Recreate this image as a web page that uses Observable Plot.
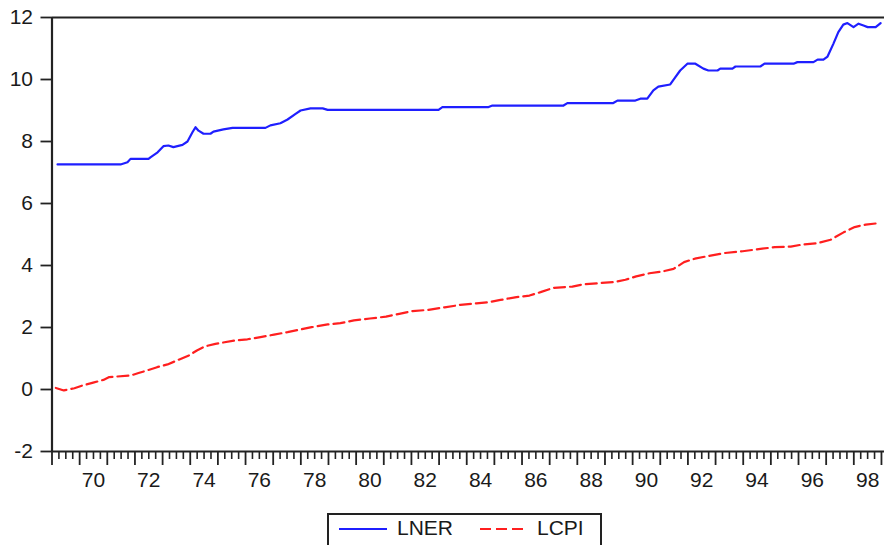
<!DOCTYPE html>
<html>
<head>
<meta charset="utf-8">
<script src="https://cdn.jsdelivr.net/npm/d3@7"></script>
<script src="https://cdn.jsdelivr.net/npm/@observablehq/plot@0.6"></script>
<style>
  html, body { margin: 0; padding: 0; background: #fff; }
  body { position: relative; width: 884px; height: 545px; overflow: hidden; font-family: "Liberation Sans", Arial, sans-serif; }
  #chart { position: absolute; left: 0; top: 0; }
  #legend { position: absolute; left: 327px; top: 513px; width: 275px; height: 50px; border: 2px solid #222; box-sizing: border-box; }
  #legend svg { position: absolute; left: 0; top: 0; }
</style>
</head>
<body>
<div id="chart"></div>
<div id="legend"></div>
<script>
const lnerDates = [1969.20,1971.48,1971.73,1971.84,1972.49,1972.56,1972.82,1973.03,1973.21,1973.39,1973.72,1973.90,1974.08,1974.19,1974.30,1974.48,1974.73,1974.84,1975.20,1975.53,1976.72,1976.90,1977.26,1977.52,1977.81,1977.99,1978.35,1978.79,1978.97,1982.98,1983.12,1984.79,1984.93,1987.50,1987.64,1989.30,1989.45,1990.10,1990.28,1990.53,1990.75,1990.93,1991.36,1991.54,1991.72,1991.98,1992.27,1992.56,1992.74,1993.07,1993.17,1993.61,1993.72,1994.62,1994.77,1995.82,1995.96,1996.54,1996.69,1996.90,1997.05,1997.26,1997.44,1997.62,1997.77,1997.99,1998.17,1998.35,1998.50,1998.79,1998.97];
const lnerValues = [7.26,7.26,7.33,7.44,7.44,7.49,7.65,7.85,7.87,7.82,7.89,8.00,8.30,8.46,8.35,8.25,8.25,8.32,8.39,8.44,8.44,8.52,8.59,8.71,8.89,9.00,9.07,9.07,9.02,9.02,9.11,9.11,9.16,9.16,9.24,9.24,9.32,9.32,9.38,9.38,9.65,9.77,9.84,10.07,10.29,10.51,10.51,10.35,10.29,10.29,10.35,10.35,10.42,10.42,10.51,10.51,10.56,10.56,10.64,10.64,10.74,11.15,11.53,11.77,11.82,11.69,11.80,11.74,11.69,11.69,11.82];

const lcpiDates = [1969.14,1969.43,1969.81,1970.10,1970.49,1970.86,1971.07,1971.84,1972.13,1972.42,1972.80,1973.18,1973.58,1973.95,1974.24,1974.53,1974.91,1975.59,1976.07,1976.54,1977.03,1977.52,1977.90,1978.39,1978.97,1979.43,1979.92,1980.50,1981.08,1981.56,1982.04,1982.62,1983.20,1983.77,1984.35,1984.82,1985.22,1985.80,1986.27,1986.67,1987.14,1987.82,1988.20,1988.78,1989.36,1989.74,1990.13,1990.61,1991.09,1991.48,1991.86,1992.25,1992.82,1993.31,1993.98,1994.56,1995.14,1995.72,1996.10,1996.68,1997.16,1997.63,1998.03,1998.43,1998.84];
const lcpiValues = [0.05,-0.03,0.04,0.13,0.22,0.31,0.40,0.45,0.53,0.61,0.72,0.81,0.96,1.10,1.26,1.39,1.47,1.58,1.62,1.69,1.77,1.85,1.92,2.01,2.10,2.14,2.23,2.29,2.35,2.44,2.53,2.57,2.65,2.73,2.78,2.82,2.89,2.98,3.03,3.14,3.28,3.32,3.39,3.43,3.47,3.54,3.65,3.75,3.81,3.89,4.11,4.22,4.32,4.40,4.46,4.53,4.59,4.61,4.67,4.72,4.83,5.07,5.24,5.32,5.36];

const yTicks = [-2, 0, 2, 4, 6, 8, 10, 12];
const xLabels = ["70","72","74","76","78","80","82","84","86","88","90","92","94","96","98"];
const seriesNames = ["LNER", "LCPI"];
const seriesColors = ["#1f1fff", "#ff1f1f"];

const lner = lnerDates.map((t, i) => ({t, v: lnerValues[i]}));
const lcpi = lcpiDates.map((t, i) => ({t, v: lcpiValues[i]}));

const yearTicks = d3.range(1969, 2000);
const quarterTicks = d3.range(1969 * 4, 1999 * 4 + 1).map(q => q / 4).filter(q => q % 1 !== 0);
const labelPos = xLabels.map(s => 1900 + (+s) + 0.5);
const FS = 21;

const plot = Plot.plot({
  width: 884,
  height: 510,
  marginLeft: 51.5,
  marginRight: 0,
  marginTop: 17,
  marginBottom: 59,
  style: { fontFamily: "'Liberation Sans', Arial, sans-serif", fontSize: FS + "px", color: "#1a1a1a", background: "#fff" },
  x: { type: "linear", domain: [1969, 1999.11] },
  y: { domain: [-2, 12] },
  marks: [
    Plot.line(lner, { x: "t", y: "v", stroke: seriesColors[0], strokeWidth: 2.2 }),
    Plot.line(lcpi, { x: "t", y: "v", stroke: seriesColors[1], strokeWidth: 2.2, strokeDasharray: "11,5" }),
    Plot.ruleX([1969], { y1: -2, y2: 12, stroke: "#222", strokeWidth: 2.2 }),
    Plot.ruleY([12, -2], { stroke: "#222", strokeWidth: 2.2 }),
    Plot.axisY({ ticks: yTicks, tickSize: 11, tickPadding: 8, tickFormat: d => String(d), stroke: "#222", strokeWidth: 1.8, label: null, fill: "#1a1a1a", fontSize: FS }),
    Plot.axisX({ ticks: quarterTicks, tickSize: 8, tickFormat: () => "", stroke: "#222", strokeWidth: 1.6, label: null }),
    Plot.axisX({ ticks: yearTicks, tickSize: 14, tickFormat: () => "", stroke: "#222", strokeWidth: 1.8, label: null }),
    Plot.axisX({ ticks: labelPos, tickSize: 0, tickPadding: 21, tickFormat: (d) => xLabels[labelPos.indexOf(d)], label: null, fill: "#1a1a1a", fontSize: FS })
  ]
});
document.getElementById("chart").appendChild(plot);

// legend
const ns = "http://www.w3.org/2000/svg";
const lg = document.createElementNS(ns, "svg");
lg.setAttribute("width", 272);
lg.setAttribute("height", 40);
const items = [
  { x1: 10, x2: 58, tx: 68, dash: null },
  { x1: 151, x2: 198, tx: 208, dash: "11,5" }
];
items.forEach((it, i) => {
  const l = document.createElementNS(ns, "line");
  l.setAttribute("x1", it.x1); l.setAttribute("x2", it.x2);
  l.setAttribute("y1", 14); l.setAttribute("y2", 14);
  l.setAttribute("stroke", seriesColors[i]);
  l.setAttribute("stroke-width", 2.2);
  if (it.dash) l.setAttribute("stroke-dasharray", it.dash);
  lg.appendChild(l);
  const t = document.createElementNS(ns, "text");
  t.setAttribute("x", it.tx); t.setAttribute("y", 20);
  t.setAttribute("font-size", FS);
  t.setAttribute("font-family", "'Liberation Sans', Arial, sans-serif");
  t.setAttribute("fill", "#1a1a1a");
  t.textContent = seriesNames[i];
  lg.appendChild(t);
});
document.getElementById("legend").appendChild(lg);
</script>
</body>
</html>
